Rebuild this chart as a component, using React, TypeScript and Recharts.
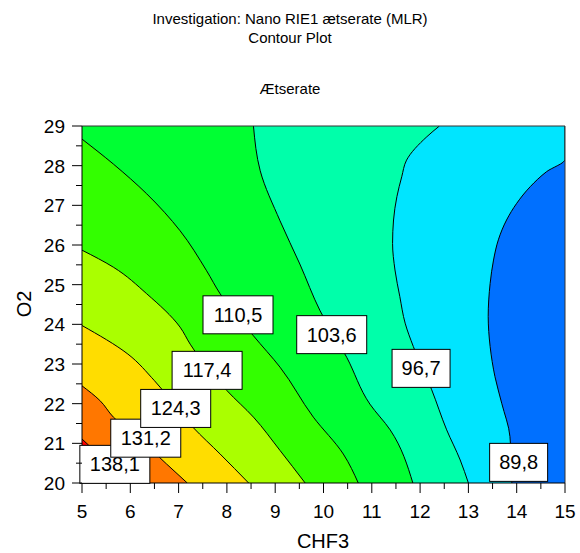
import React from 'react';
import { ComposedChart, Area, XAxis, YAxis, CartesianGrid, ReferenceDot, ReferenceLine } from 'recharts';

const titleLines = ['Investigation: Nano RIE1 ætserate (MLR)', 'Contour Plot', 'Ætserate'];

const xTicks = [5, 5.5, 6, 6.5, 7, 7.5, 8, 8.5, 9, 9.5, 10, 10.5, 11, 11.5, 12, 12.5, 13, 13.5, 14, 14.5, 15];
const yTicks = [20, 20.5, 21, 21.5, 22, 22.5, 23, 23.5, 24, 24.5, 25, 25.5, 26, 26.5, 27, 27.5, 28, 28.5, 29];

// contour lines: CHF3 position of each level along O2 (area left of the line is above the level)
const line89 = [
  { o2: 20, chf3: 13.9 }, { o2: 21.17, chf3: 13.86 }, { o2: 22.01, chf3: 13.69 }, { o2: 22.68, chf3: 13.55 },
  { o2: 23.44, chf3: 13.45 }, { o2: 24.2, chf3: 13.41 }, { o2: 25.03, chf3: 13.45 }, { o2: 25.62, chf3: 13.52 },
  { o2: 26.13, chf3: 13.62 }, { o2: 26.63, chf3: 13.79 }, { o2: 27.05, chf3: 14.0 }, { o2: 27.47, chf3: 14.28 },
  { o2: 27.85, chf3: 14.62 }, { o2: 28.16, chf3: 15 }, { o2: 29, chf3: 15 },
];
const line96 = [
  { o2: 20, chf3: 13.0 }, { o2: 20.58, chf3: 12.83 }, { o2: 21.34, chf3: 12.55 }, { o2: 22.35, chf3: 12.24 },
  { o2: 23.44, chf3: 11.86 }, { o2: 24.03, chf3: 11.69 }, { o2: 24.7, chf3: 11.58 }, { o2: 25.37, chf3: 11.48 },
  { o2: 26.04, chf3: 11.43 }, { o2: 26.63, chf3: 11.45 }, { o2: 27.22, chf3: 11.52 }, { o2: 27.72, chf3: 11.62 },
  { o2: 28.14, chf3: 11.72 }, { o2: 28.73, chf3: 12.14 }, { o2: 29, chf3: 12.4 },
];
const line103 = [
  { o2: 20, chf3: 11.85 }, { o2: 21.34, chf3: 11.38 }, { o2: 21.99, chf3: 10.96 }, { o2: 23.17, chf3: 10.48 },
  { o2: 24.34, chf3: 9.93 }, { o2: 25.52, chf3: 9.51 }, { o2: 26.61, chf3: 9.1 }, { o2: 27.87, chf3: 8.69 },
  { o2: 29, chf3: 8.55 },
];
const line110 = [
  { o2: 20, chf3: 10.72 }, { o2: 20.73, chf3: 10.41 }, { o2: 21.66, chf3: 9.79 }, { o2: 22.92, chf3: 9.1 },
  { o2: 23.71, chf3: 8.55 }, { o2: 24.77, chf3: 7.86 }, { o2: 25.35, chf3: 7.58 }, { o2: 26.36, chf3: 7.03 },
  { o2: 27.29, chf3: 6.34 }, { o2: 28.04, chf3: 5.65 }, { o2: 28.67, chf3: 5 },
];
const line117 = [
  { o2: 20, chf3: 9.62 }, { o2: 20.82, chf3: 9.1 }, { o2: 21.66, chf3: 8.55 }, { o2: 22.33, chf3: 8.0 },
  { o2: 23.5, chf3: 7.24 }, { o2: 23.93, chf3: 7.03 }, { o2: 24.77, chf3: 6.34 }, { o2: 25.44, chf3: 5.65 },
  { o2: 25.87, chf3: 5 },
];
const line124 = [
  { o2: 20, chf3: 8.45 }, { o2: 20.73, chf3: 7.86 }, { o2: 21.4, chf3: 7.3 }, { o2: 22.58, chf3: 6.5 },
  { o2: 23.25, chf3: 5.95 }, { o2: 23.97, chf3: 5 },
];
const line131 = [
  { o2: 20, chf3: 7.18 }, { o2: 20.48, chf3: 6.75 }, { o2: 21.1, chf3: 6.2 }, { o2: 21.66, chf3: 5.65 },
  { o2: 22.08, chf3: 5.37 }, { o2: 22.45, chf3: 5 },
];
const line138 = [
  { o2: 20, chf3: 6.05 }, { o2: 20.5, chf3: 5.55 }, { o2: 21.11, chf3: 5 },
];

const contourLines = [line89, line96, line103, line110, line117, line124, line131, line138];
const bandColors = ['#00e5ff', '#00ffaa', '#00ff33', '#33ff00', '#aaff00', '#ffdd00', '#ff7700', '#ff0000'];
const belowColor = '#0070ff';

const labelTexts = ['138,1', '131,2', '124,3', '117,4', '110,5', '103,6', '96,7', '89,8'];
const labelChf3 = [5.68, 6.32, 6.94, 7.59, 8.23, 10.17, 12.02, 14.04];
const labelO2 = [20.47, 21.13, 21.88, 22.84, 24.24, 23.74, 22.89, 20.52];

const font = "'Liberation Sans', Arial, sans-serif";

const XTick = (props: any) => {
  const { x, y, payload } = props;
  const major = Number.isInteger(payload.value);
  return (
    <g>
      <line x1={x} x2={x} y1={y} y2={y + (major ? 10 : 6)} stroke="#000" />
      {major && (
        <text x={x} y={y + 35} textAnchor="middle" fontSize={19} fill="#000">
          {payload.value}
        </text>
      )}
    </g>
  );
};

const YTick = (props: any) => {
  const { x, y, payload } = props;
  const major = Number.isInteger(payload.value);
  return (
    <g>
      <line x1={x - (major ? 10 : 6)} x2={x} y1={y} y2={y} stroke="#000" />
      {major && (
        <text x={x - 17} y={y + 7} textAnchor="end" fontSize={19} fill="#000">
          {payload.value}
        </text>
      )}
    </g>
  );
};

const LabelBox = ({ cx, cy, text }: { cx: number; cy: number; text: string }) => {
  const w = text.length * 12 + 10;
  return (
    <g>
      <rect x={cx - w / 2} y={cy - 19} width={w} height={38} fill="#fff" stroke="#000" />
      <text x={cx} y={cy + 7} textAnchor="middle" fontSize={20} fill="#000">
        {text}
      </text>
    </g>
  );
};

export default function App() {
  return (
    <div style={{ position: 'absolute', left: 0, top: 0, width: 580, height: 553, background: '#fff', fontFamily: font }}>
      {titleLines.map((t, i) => (
        <div
          key={t}
          style={{ position: 'absolute', left: 0, width: 580, top: [11, 30, 81][i], fontSize: 15, lineHeight: '15px', textAlign: 'center', color: '#000' }}
        >
          {t}
        </div>
      ))}
      <ComposedChart
        width={580}
        height={553}
        layout="vertical"
        margin={{ top: 126, right: 15, bottom: 4, left: 0 }}
      >
        <CartesianGrid horizontal={false} vertical={false} fill={belowColor} fillOpacity={1} stroke="none" />
        <XAxis
          type="number"
          domain={[5, 15]}
          ticks={xTicks}
          interval={0}
          allowDataOverflow
          height={66}
          tickSize={0}
          tickMargin={0}
          tickLine={false}
          axisLine={{ stroke: '#000' }}
          tick={<XTick />}
        />
        <YAxis
          type="number"
          dataKey="o2"
          domain={[20, 29]}
          ticks={yTicks}
          interval={0}
          allowDataOverflow
          reversed
          width={82}
          tickSize={0}
          tickMargin={0}
          tickLine={false}
          axisLine={{ stroke: '#000' }}
          tick={<YTick />}
        />
        {contourLines.map((line, i) => (
          <Area
            key={labelTexts[labelTexts.length - 1 - i]}
            data={line}
            dataKey="chf3"
            type="monotone"
            baseValue={5}
            fill={bandColors[i]}
            fillOpacity={1}
            stroke="#000"
            strokeWidth={1}
            dot={false}
            activeDot={false}
            isAnimationActive={false}
          />
        ))}
        <ReferenceLine y={29} stroke="#333" />
        <ReferenceLine x={15} stroke="#333" />
        {labelTexts.map((t, i) => (
          <ReferenceDot
            key={t}
            x={labelChf3[i]}
            y={labelO2[i]}
            r={0}
            ifOverflow="visible"
            shape={(p: any) => <LabelBox cx={p.cx} cy={p.cy} text={t} />}
          />
        ))}
      </ComposedChart>
      <div style={{ position: 'absolute', left: 223, width: 200, top: 531, fontSize: 20, lineHeight: '20px', textAlign: 'center', color: '#000' }}>
        CHF3
      </div>
      <div
        style={{
          position: 'absolute', left: 24, top: 304, fontSize: 20, lineHeight: '20px', color: '#000',
          transform: 'translate(-50%, -50%) rotate(-90deg)', whiteSpace: 'nowrap',
        }}
      >
        O2
      </div>
    </div>
  );
}
